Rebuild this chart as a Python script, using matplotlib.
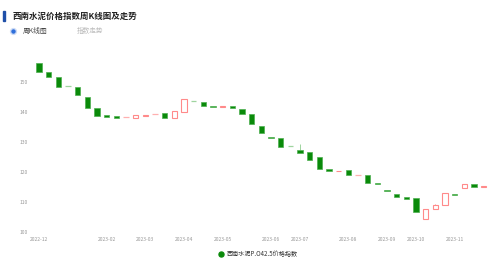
# 西南水泥价格指数周K线图 - weekly candles
import matplotlib
matplotlib.use('Agg')
import matplotlib.pyplot as plt
from matplotlib.lines import Line2D
from matplotlib.patches import Rectangle

plt.rcParams['font.family'] = ['Noto Sans CJK SC', 'DejaVu Sans']

# weekly open / close values (index points)
opens = [156.2, 153.2, 151.8, 148.65, 148.2, 144.9, 141.2, 139.0, 138.7, 138.25,
         138.0, 138.8, 139.45, 139.6, 138.0, 139.9, 143.65, 143.2, 142.0, 141.6,
         142.0, 141.0, 139.2, 135.4, 131.8, 131.3, 128.65, 127.4, 126.6, 124.9,
         121.1, 120.3, 120.7, 119.15, 119.0, 116.4, 114.1, 112.7, 111.8, 111.3,
         104.3, 107.6, 108.9, 112.7, 114.8, 115.9, 115.0]
closes = [153.2, 151.8, 148.4, 148.6, 145.7, 141.2, 138.8, 138.4, 138.1, 138.3,
          138.9, 139.0, 139.5, 138.1, 140.3, 144.2, 143.6, 142.1, 141.6, 141.9,
          141.2, 139.3, 135.9, 133.1, 131.3, 128.4, 128.6, 126.4, 124.1, 121.0,
          120.2, 120.5, 118.9, 119.2, 116.2, 116.0, 113.7, 111.8, 111.1, 106.6,
          107.6, 108.9, 112.9, 112.2, 115.9, 115.0, 115.2]
highs = {27: 129.3, 41: 109.5}

tick_idx = [0, 7, 11, 15, 19, 24, 27, 32, 36, 39, 43]
tick_labels = ['2022-12', '2023-02', '2023-03', '2023-04', '2023-05', '2023-06',
               '2023-07', '2023-08', '2023-09', '2023-10', '2023-11']
y_ticks = [100, 110, 120, 130, 140, 150]

green = '#0a8a0a'
green_edge = '#4caf50'
light_green = '#9fd49f'
pink = '#ff8a8a'
light_pink = '#ffb0b0'

fig = plt.figure(figsize=(5, 2.64), dpi=100)
ax = fig.add_axes([30/500, 1 - 232/264, 465/500, 177/264])

w = 0.55
for i, (o, c) in enumerate(zip(opens, closes)):
    lo, hi = min(o, c), max(o, c)
    if i in highs:
        ax.vlines(i, hi, highs[i], color=light_green if c < o else pink, lw=0.7, zorder=1)
    if abs(c - o) < 0.1:
        col = light_green if c < o else light_pink
        ax.hlines(lo, i - w/2, i + w/2, color=col, lw=0.9, zorder=2)
    elif c < o:
        ax.bar(i, hi - lo, w, bottom=lo, color=green, edgecolor=green_edge, lw=0.5, zorder=2)
    else:
        ax.bar(i, hi - lo, w, bottom=lo, facecolor='white', edgecolor=pink, lw=0.8, zorder=2)

ax.set_xlim(-0.93, 47.16)
ax.set_ylim(100, 159)
ax.set_yticks(y_ticks)
ax.set_yticklabels([str(v) for v in y_ticks])
ax.set_xticks(tick_idx)
ax.set_xticklabels(tick_labels)
ax.tick_params(axis='both', length=0, labelsize=3.6, colors='#999999')
ax.tick_params(axis='x', pad=3.5)
ax.tick_params(axis='y', pad=1.5)
for s in ax.spines.values():
    s.set_visible(False)

# header
fig.add_artist(Rectangle((3/500, 1 - 21/264), 2.2/500, 10/264, color='#1f4fa8',
                         transform=fig.transFigure))
fig.text(13/500, 1 - 16/264, '西南水泥价格指数周K线图及走势', fontsize=6.1,
         fontweight='bold', color='#222222', va='center', ha='left')
fig.add_artist(Line2D([13/500], [1 - 31/264], marker='o', markersize=4.2,
                      markerfacecolor='#2f6fdb', markeredgecolor='#cfdcf5',
                      markeredgewidth=1.0, transform=fig.transFigure))
fig.text(23/500, 1 - 31/264, '周K线图', fontsize=4.9, color='#444444', va='center')
fig.text(77/500, 1 - 31/264, '指数走势', fontsize=4.8, color='#bbbbbb', va='center')

# legend
fig.add_artist(Line2D([221/500], [1 - 254/264], marker='o', markersize=3.6,
                      color=green, transform=fig.transFigure))
fig.text(227/500, 1 - 254/264, '西南水泥P.O42.5价格指数', fontsize=4.4,
         color='#333333', va='center')

fig.savefig('out.png', dpi=100)
